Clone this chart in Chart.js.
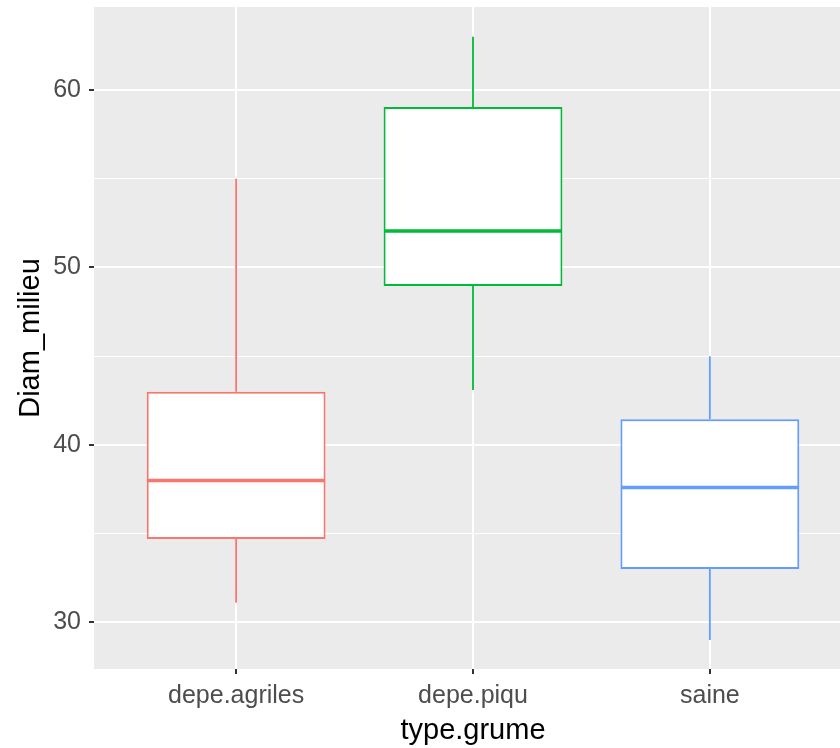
<!DOCTYPE html>
<html lang="en">
<head>
    <meta charset="UTF-8">
    <title>Diam_milieu by type.grume</title>
    <script src="https://cdn.jsdelivr.net/npm/chart.js"></script>
    <style>
        html, body { margin: 0; padding: 0; background: #fff; overflow: hidden; }
    </style>
</head>
<body>
<canvas id="boxChart" width="858" height="748"></canvas>

<script>
    // box statistics
    const categories = ['depe.agriles', 'depe.piqu', 'saine'];
    const whiskerLow = [31.1, 43.1, 29.0];
    const q1 = [34.7, 48.95, 33.0];
    const median = [38.0, 52.05, 37.6];
    const q3 = [43.0, 59.05, 41.45];
    const whiskerHigh = [55.0, 63.0, 45.0];
    const yTicks = [30, 35, 40, 45, 50, 55, 60];
    const colors = ['#F8766D', '#00BA38', '#619CFF'];

    const font = 'Liberation Sans, Arial, sans-serif';

    // grey panel behind the grid
    const panelBg = {
        id: 'panelBg',
        beforeDraw(chart) {
            const a = chart.chartArea, ctx = chart.ctx;
            ctx.save();
            ctx.fillStyle = '#EBEBEB';
            ctx.fillRect(a.left, a.top, a.right - a.left, a.bottom - a.top);
            ctx.restore();
        }
    };

    // whiskers + median line on top of the floating bars
    const boxParts = {
        id: 'boxParts',
        afterDatasetsDraw(chart) {
            const ctx = chart.ctx;
            const xs = chart.scales.x, ys = chart.scales.y;
            const bars = chart.getDatasetMeta(0).data;
            ctx.save();
            categories.forEach((c, i) => {
                const x = xs.getPixelForValue(i + 1);
                const half = bars[i].width / 2;
                ctx.strokeStyle = colors[i];
                ctx.lineWidth = 1.8;
                ctx.beginPath();
                ctx.moveTo(x, ys.getPixelForValue(whiskerHigh[i]));
                ctx.lineTo(x, ys.getPixelForValue(q3[i]));
                ctx.moveTo(x, ys.getPixelForValue(q1[i]));
                ctx.lineTo(x, ys.getPixelForValue(whiskerLow[i]));
                ctx.stroke();
                ctx.lineWidth = 3.5;
                const ym = ys.getPixelForValue(median[i]);
                ctx.beginPath();
                ctx.moveTo(x - half + 1, ym);
                ctx.lineTo(x + half - 1, ym);
                ctx.stroke();
            });
            ctx.restore();
        }
    };

    new Chart(document.getElementById('boxChart'), {
        type: 'bar',
        data: {
            datasets: [{
                data: categories.map((c, i) => ({ x: i + 1, y: [q1[i], q3[i]] })),
                backgroundColor: '#FFFFFF',
                borderColor: colors,
                borderWidth: 2,
                borderSkipped: false,
                barPercentage: 0.755,
                categoryPercentage: 1
            }]
        },
        options: {
            responsive: false,
            animation: false,
            layout: { padding: { top: 7, right: 6, left: 0, bottom: 0 } },
            plugins: {
                legend: { display: false },
                tooltip: { enabled: false }
            },
            scales: {
                x: {
                    type: 'linear',
                    min: 0.4,
                    max: 3.6,
                    offset: false,
                    afterBuildTicks: s => { s.ticks = categories.map((c, i) => ({ value: i + 1 })); },
                    afterFit: s => { s.height = 79; s.paddingLeft = 0; s.paddingRight = 0; },
                    border: { display: false },
                    grid: {
                        offset: false,
                        color: '#FFFFFF',
                        lineWidth: 2,
                        tickLength: 5,
                        tickColor: '#333333',
                        tickWidth: 2
                    },
                    ticks: {
                        padding: 7,
                        color: '#4D4D4D',
                        font: { family: font, size: 25 },
                        callback: v => categories[v - 1]
                    },
                    title: {
                        display: true,
                        text: 'type.grume',
                        color: '#000000',
                        font: { family: font, size: 29 },
                        padding: { top: 0, bottom: 0 }
                    }
                },
                y: {
                    min: 27.37,
                    max: 64.68,
                    afterBuildTicks: s => { s.ticks = yTicks.map(v => ({ value: v })); },
                    afterFit: s => { s.width = 94; s.paddingTop = 0; s.paddingBottom = 0; },
                    border: { display: false },
                    grid: {
                        color: '#FFFFFF',
                        lineWidth: c => (c.tick && c.tick.value % 10 === 0 ? 2 : 1),
                        tickLength: 5,
                        tickColor: c => (c.tick && c.tick.value % 10 === 0 ? '#333333' : 'rgba(0,0,0,0)'),
                        tickWidth: 2
                    },
                    ticks: {
                        padding: 8,
                        color: '#4D4D4D',
                        font: { family: font, size: 25 },
                        callback: v => (v % 10 === 0 ? v : '')
                    },
                    title: {
                        display: true,
                        text: 'Diam_milieu',
                        color: '#000000',
                        font: { family: font, size: 29 },
                        padding: { top: 14, bottom: 0 }
                    }
                }
            }
        },
        plugins: [panelBg, boxParts]
    });
</script>
</body>
</html>
